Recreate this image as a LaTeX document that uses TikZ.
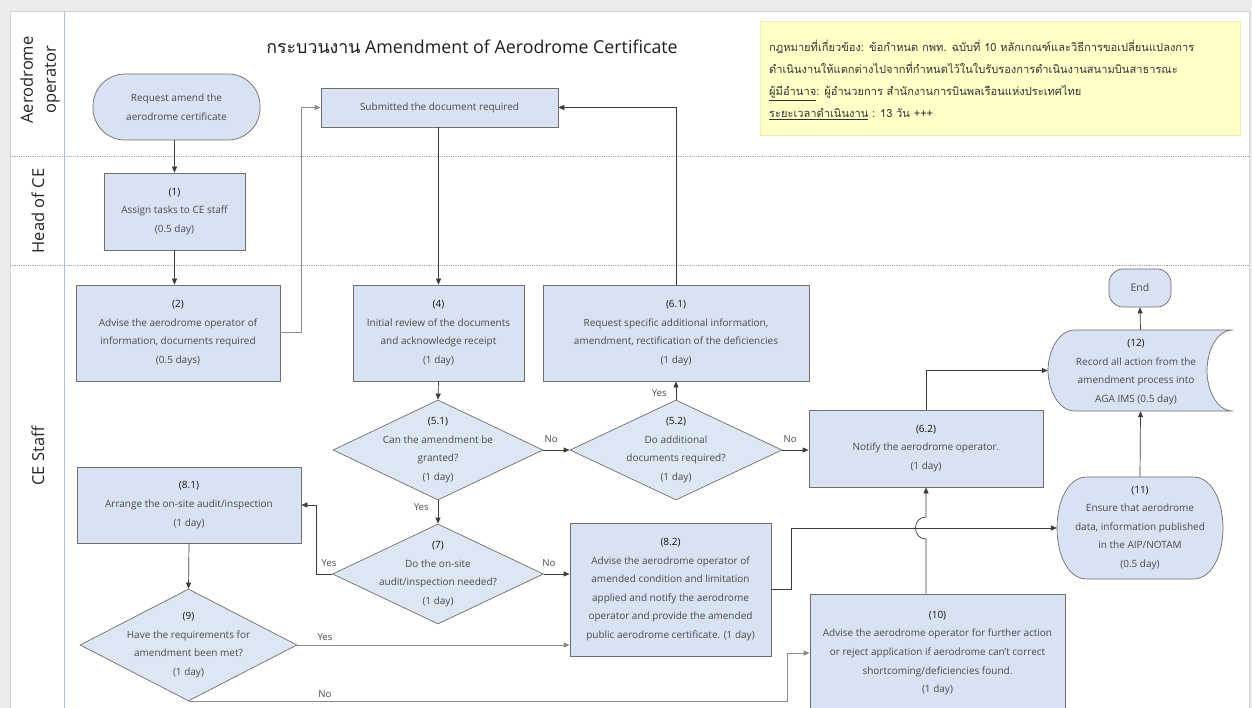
\documentclass[tikz,border=0pt]{standalone}
\usepackage{fontspec}
\setmainfont{Open Sans}
\newfontfamily\thaifont[Script=Thai]{Loma}
\usetikzlibrary{arrows.meta,calc,shapes.geometric}

\definecolor{pagegrey}{HTML}{EBEBEB}
\definecolor{panelline}{HTML}{D2D2D2}
\definecolor{lanesep}{HTML}{A8A8A8}
\definecolor{laneblue}{HTML}{A9C2E8}
\definecolor{boxfill}{HTML}{D9E2F2}
\definecolor{diafill}{HTML}{DDE7F4}
\definecolor{shapeline}{HTML}{6E6E6E}
\definecolor{connc}{HTML}{3C3C3C}
\definecolor{conngrey}{HTML}{8C8C8C}
\definecolor{bodytext}{HTML}{4A4A4A}
\definecolor{notefill}{HTML}{FFFFC8}
\definecolor{noteline}{HTML}{EDEDB0}

\newcommand\fbody{\fontsize{10}{18.6}\selectfont}
\newcommand\nb[1]{{\color{black!92}#1}}

\begin{document}
\begin{tikzpicture}[x=1pt,y=-1pt,
  shp/.style={draw=shapeline, line width=0.7pt},
  box/.style={shp, fill=boxfill, rectangle, inner sep=0pt, align=center,
    font=\fbody, text=bodytext},
  dia/.style={shp, fill=diafill, diamond, inner sep=0pt},
  dtext/.style={align=center, font=\fbody, text=bodytext, inner sep=0pt},
  plain/.style={rectangle, inner sep=0pt, align=center, font=\fbody, text=bodytext},
  conn/.style={draw=connc, line width=0.7pt, -{Triangle[length=6pt,width=5pt]}},
  conng/.style={draw=conngrey, line width=1pt, -{Triangle[length=6pt,width=5pt]}},
  yn/.style={font=\fontsize{9.6}{11}\selectfont, text=bodytext, inner sep=0pt},
  lanelabel/.style={rotate=90, align=center, font=\fontsize{16.5}{23}\selectfont,
    text=black!85, inner sep=0pt},
  notetext/.style={anchor=base west, inner sep=0pt, text=black!80,
    font=\thaifont\fontsize{11.1}{13}\selectfont}
]
\useasboundingbox (0,0) rectangle (1252,708);

% page and swimlane frame
\fill[pagegrey] (0,0) rectangle (1252,708);
\fill[white] (10,11) rectangle (1249,712);
\draw[panelline, line width=0.8pt] (10,712) -- (10,11) -- (1249,11) -- (1249,712);
\draw[laneblue, line width=1pt] (64,11) -- (64,712);
\draw[lanesep, line width=0.6pt, dash pattern=on 0.8pt off 1pt] (10,156) -- (1249,156);
\draw[lanesep, line width=0.6pt, dash pattern=on 0.8pt off 1pt] (10,265) -- (1249,265);

% lane titles
\node[lanelabel] (laneA) at (40,80) {Aerodrome\\operator};
\node[lanelabel] (laneB) at (38,211) {Head of CE};
\node[lanelabel] (laneC) at (38,456) {CE Staff};

% title
\node[inner sep=0pt, text=black!88, font=\fontsize{17.8}{21}\selectfont] (title) at (472,47)
  {{\thaifont กระบวนงาน} Amendment of Aerodrome Certificate};

% legal note
\node[draw=noteline, fill=notefill, line width=0.8pt, minimum width=480, minimum height=114,
  inner sep=0pt] (note) at (1000,78) {};
\node[notetext] (note1) at (769,52) {กฎหมายที่เกี่ยวข้อง: ข้อกำหนด กพท. ฉบับที่ 10 หลักเกณฑ์และวิธีการขอเปลี่ยนแปลงการ};
\node[notetext] (note2) at (769,74) {ดำเนินงานให้แตกต่างไปจากที่กำหนดไว้ในใบรับรองการดำเนินงานสนามบินสาธารณะ};
\node[notetext] (note3) at (769,96) {\underline{ผู้มีอำนาจ}: ผู้อำนวยการ สำนักงานการบินพลเรือนแห่งประเทศไทย};
\node[notetext] (note4) at (769,117.5) {\underline{ระยะเวลาดำเนินงาน} : 13 วัน +++};

% process steps
\node[box, rounded corners=32pt, minimum width=167, minimum height=66] (start) at (176.5,107)
  {Request amend the\\aerodrome certificate};
\node[box, minimum width=237, minimum height=39] (sub) at (439.5,107.5)
  {Submitted the document required};
\node[box, minimum width=141, minimum height=77] (n1) at (174.5,211.5)
  {\nb{(1)}\\Assign tasks to CE staff\\(0.5 day)};
\node[box, minimum width=204, minimum height=96] (n2) at (178,333)
  {\nb{(2)}\\Advise the aerodrome operator of\\information, documents required\\(0.5 days)};
\node[box, minimum width=171, minimum height=96] (n4) at (438.5,333)
  {\nb{(4)}\\Initial review of the documents\\and acknowledge receipt\\(1 day)};
\node[box, minimum width=266, minimum height=96] (n61) at (676,333)
  {\nb{(6.1)}\\Request specific additional information,\\amendment, rectification of the deficiencies\\(1 day)};
\node[dia, minimum width=210, minimum height=100,
  label={[dtext]center:{\nb{(5.1)}\\Can the amendment be\\granted?\\(1 day)}}] (d51) at (438,450) {};
\node[dia, minimum width=212, minimum height=100,
  label={[dtext]center:{\nb{(5.2)}\\Do additional\\documents required?\\(1 day)}}] (d52) at (676,450) {};
\node[box, minimum width=234, minimum height=77] (n62) at (926,448.5)
  {\nb{(6.2)}\\Notify the aerodrome operator.\\(1 day)};

% (12) stored-data outline, then its text
\draw[shp, fill=boxfill] (1075,330) -- (1233,330)
  .. controls (1216,330) and (1207,352) .. (1207,370.5)
  .. controls (1207,389) and (1216,411) .. (1233,411)
  -- (1075,411)
  .. controls (1058,411) and (1048,389) .. (1048,370.5)
  .. controls (1048,352) and (1058,330) .. (1075,330) -- cycle;
\node[plain, minimum width=185, minimum height=81] (n12) at (1140.5,370.5) {};
\node[plain] (n12t) at (1136,372)
  {\nb{(12)}\\Record all action from the\\amendment process into\\AGA IMS (0.5 day)};

\node[box, rounded corners=14pt, minimum width=62, minimum height=38,
  font=\fontsize{10.5}{12}\selectfont] (end) at (1140,288) {End};

% (11) rounded display outline, then its text
\draw[shp, fill=boxfill] (1087,477) -- (1193,477)
  .. controls (1213,477) and (1223,503) .. (1223,528)
  .. controls (1223,553) and (1213,579) .. (1193,579)
  -- (1087,579)
  .. controls (1067,579) and (1057,553) .. (1057,528)
  .. controls (1057,503) and (1067,477) .. (1087,477) -- cycle;
\node[plain, minimum width=166, minimum height=102] (n11) at (1140,528)
  {\nb{(11)}\\Ensure that aerodrome\\data, information published\\in the AIP/NOTAM\\(0.5 day)};

\node[box, minimum width=224, minimum height=76] (n81) at (189,505)
  {\nb{(8.1)}\\Arrange the on-site audit/inspection\\(1 day)};
\node[dia, minimum width=211, minimum height=100,
  label={[dtext]center:{\nb{(7)}\\Do the on-site\\audit/inspection needed?\\(1 day)}}] (d7) at (438,574) {};
\node[box, minimum width=201, minimum height=133] (n82) at (670.5,589.5)
  {\nb{(8.2)}\\Advise the aerodrome operator of\\amended condition and limitation\\applied and notify the aerodrome\\operator and provide the amended\\public aerodrome certificate. (1 day)};
\node[dia, minimum width=217, minimum height=112,
  label={[dtext]center:{\nb{(9)}\\Have the requirements for\\amendment been met?\\(1 day)}}] (d9) at (188.5,645) {};
\node[box, minimum width=255, minimum height=118] (n10) at (937.5,653)
  {\nb{(10)}\\Advise the aerodrome operator for further action\\or reject application if aerodrome can’t correct\\shortcoming/deficiencies found.\\(1 day)};

% connectors
\draw[conn] (n1.north |- start.south) -- (n1.north);
\draw[conn] (n1.south) -- (n1.south |- n2.north);
\draw[conng] (n2.east) -- ++(21,0) |- (sub.west);
\draw[conn] (sub.south -| n4.north) -- (n4.north);
\draw[conn] (n4.south) -- (d51.north);
\draw[conn] (d51.east) -- (d52.west) node[yn, pos=0.3, above=7pt] (l1) {No};
\draw[conn] (d52.north) -- (n61.south) node[yn, pos=0.35, left=9pt] (l2) {Yes};
\draw[conn] (n61.north) |- (sub.east);
\draw[conn] (d52.east) -- (d52.east -| n62.west) node[yn, pos=0.3, above=7pt] (l3) {No};
\draw[conn] (n62.north) |- (n12.west);
\draw[conn] (n11.north) -- (n12.south);
\draw[conn] (n12.north) -- (end.south);
\draw[conn] (d51.south) -- (d7.north) node[yn, pos=0.3, left=9pt] (l4) {Yes};
\draw[conn] (d7.west) -- ++(-16,0) |- (n81.east);
\node[yn] (l5) at (329,563) {Yes};
\draw[conn] (d7.east) -- (d7.east -| n82.west) node[yn, pos=0.2, above=7pt] (l6) {No};
\draw[conn] (n81.south) -- (d9.north);
\draw[conng] (d9.east) -- (d9.east -| n82.west);
\node[yn] (l7) at (325,637) {Yes};
\draw[conng] (d9.south) -| ($(n10.west)+(-22,0)$) -- (n10.west);
\node[yn] (l8) at (325,694) {No};
\draw[conn] (n82.east) -- ++(20,0) |- (n11.west);
% (10) up to (6.2), hopping over the line into (11)
\draw[conn] (n62.south |- n10.north) -- ($(n62.south |- n11.west)+(0,11)$)
  .. controls ($(n62.south |- n11.west)+(-14,11)$) and ($(n62.south |- n11.west)+(-14,-11)$)
  .. ($(n62.south |- n11.west)+(0,-11)$) -- (n62.south);
\end{tikzpicture}
\end{document}
